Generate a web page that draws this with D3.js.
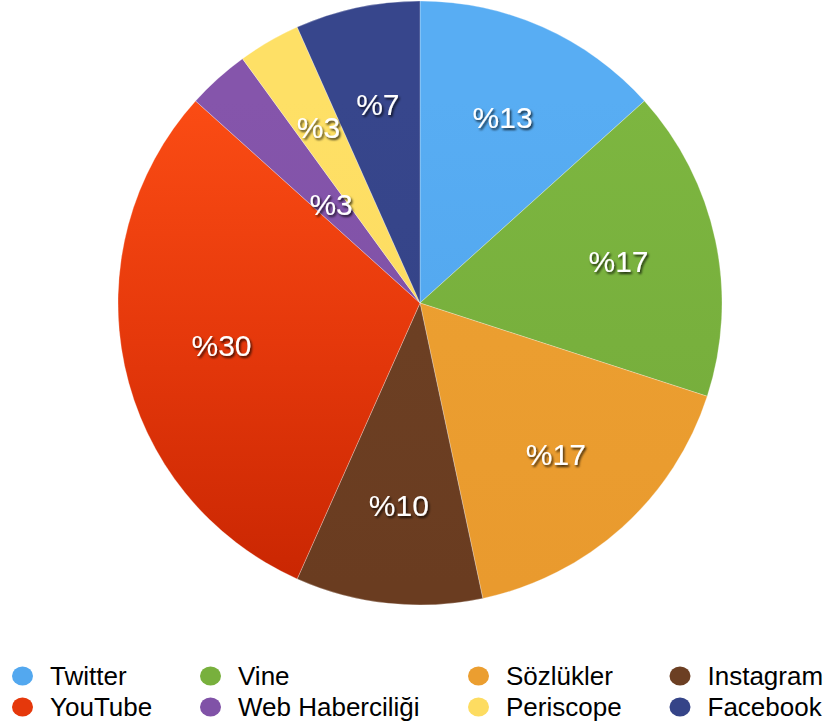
<!DOCTYPE html>
<html><head><meta charset="utf-8">
<script src="https://cdn.jsdelivr.net/npm/d3@7"></script>
<style>html,body{margin:0;padding:0;background:#fff;}svg{display:block;}</style>
</head><body>
<svg id="chart" width="830" height="728"></svg>
<script>
const categories = ["Twitter","Vine","Sözlükler","Instagram","YouTube","Web Haberciliği","Periscope","Facebook"];
const values = [4,5,5,3,9,1,1,2];
const palette = [
  ["#58adf3","#53a8ef","#4ea3ea"],
  ["#7db640","#78b03d","#74aa3a"],
  ["#eda233","#eb9e30","#e99a2e"],
  ["#6e4126","#6c3f23","#6a3c20"],
  ["#fb4c14","#e5380b","#c92602"],
  ["#8555ab","#8052a7","#7c4ea3"],
  ["#fee066","#fddc61","#fdd85c"],
  ["#37468c","#354488","#334285"]
];
const svg = d3.select("#chart");
const cx = 420, cy = 303, R = 302;
const defs = svg.append("defs");
palette.forEach((c,i)=>{
  const g = defs.append("linearGradient").attr("id","g"+i)
    .attr("gradientUnits","userSpaceOnUse").attr("x1",0).attr("x2",0)
    .attr("y1",100-cy).attr("y2",585-cy);
  g.append("stop").attr("offset","0%").attr("stop-color",c[0]);
  g.append("stop").attr("offset","50%").attr("stop-color",c[1]);
  g.append("stop").attr("offset","100%").attr("stop-color",c[2]);
});
const f = defs.append("filter").attr("id","sh").attr("x","-20%").attr("y","-20%").attr("width","140%").attr("height","140%");
f.append("feDropShadow").attr("dx",1.5).attr("dy",2).attr("stdDeviation",1.3).attr("flood-color","#000").attr("flood-opacity",0.75);

const total = d3.sum(values);
const pie = d3.pie().sort(null).value(d=>d)(values);
const arc = d3.arc().innerRadius(0).outerRadius(R);
const g = svg.append("g").attr("transform",`translate(${cx},${cy})`);
g.selectAll("path.s").data(pie).join("path").attr("class","s")
  .attr("d",arc)
  .attr("fill",(d,i)=>`url(#g${i})`)
  .attr("stroke","rgba(255,255,255,0.45)").attr("stroke-width",0.6);

// labels
const lblR = R*0.672;
g.selectAll("text.l").data(pie).join("text").attr("class","l")
  .attr("transform",(d,i)=>{
    const a=(d.startAngle+d.endAngle)/2;
    const small = (d.value/total)<0.05 && i+1<pie.length && (pie[i+1].value/total)<0.05;
    const r = small ? R*0.44 : lblR;
    return `translate(${Math.sin(a)*r},${-Math.cos(a)*r})`;
  })
  .attr("text-anchor","middle").attr("dy","0.36em")
  .attr("font-family","'Liberation Sans', Arial, Helvetica, sans-serif")
  .attr("font-size",30).attr("fill","#fff").attr("filter","url(#sh)")
  .text(d=>"%"+Math.round(d.value/total*100));

// legend
const colX = [22.5, 210.5, 478.5, 680];
const rowY = [676, 707];
const lg = svg.append("g");
categories.forEach((c,i)=>{
  const col = i%4, row = Math.floor(i/4);
  lg.append("ellipse").attr("cx",colX[col]).attr("cy",rowY[row]).attr("rx",10.5).attr("ry",9.5)
    .attr("fill",palette[i][1]);
  lg.append("text").attr("x",colX[col]+27.5).attr("y",rowY[row]+9)
    .attr("font-family","'Liberation Sans', Arial, Helvetica, sans-serif")
    .attr("font-size",26).attr("fill","#000").text(c);
});
</script>
</body></html>
